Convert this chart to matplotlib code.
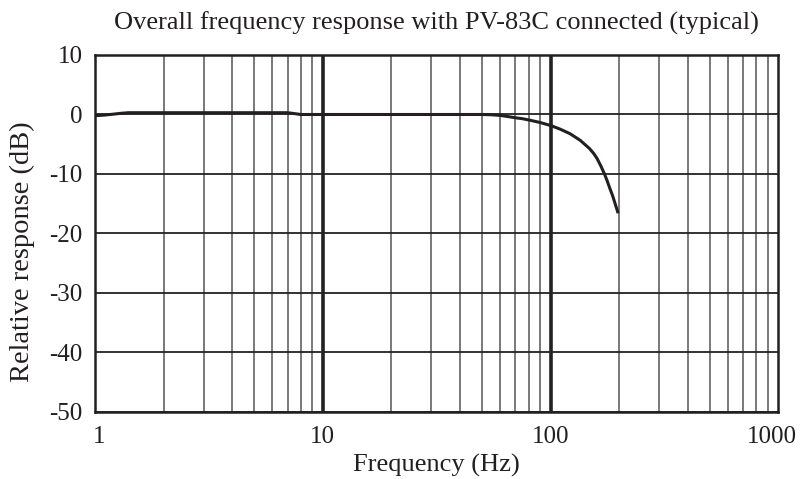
import numpy as np
import matplotlib.pyplot as plt
from matplotlib.transforms import ScaledTranslation

plt.rcParams['font.family'] = ['Liberation Serif', 'DejaVu Serif']

# typical response
freq_hz = [1.0, 1.1, 1.2, 1.3, 1.4, 2.0, 4.0, 7.0, 7.5, 8.0, 10, 20, 40, 50, 55, 60, 65, 70, 75, 81, 90,
           100, 110, 122, 135, 148, 155, 160, 166, 172, 177, 182, 187, 191, 195, 198]
resp_db = [-0.2, -0.1, 0.05, 0.2, 0.3, 0.3, 0.3, 0.3, 0.15, 0.0, 0.0, 0.0, 0.0, 0.0, -0.05, -0.15, -0.35, -0.55, -0.7, -0.95, -1.35,
           -1.85, -2.45, -3.25, -4.35, -5.7, -6.6, -7.4, -8.6, -9.9, -11.1, -12.4, -13.6, -14.7, -15.8, -16.6]

y_ticks = [10, 0, -10, -20, -30, -40, -50]
x_ticks = [1, 10, 100, 1000]
x_labels = ['1', '10', '100', '1000']

fig = plt.figure(figsize=(8.02, 4.79), dpi=100)
ax = fig.add_axes([0.1185, 0.1399, 0.852, 0.7453])

# grid: thin lines on every 1-9 step, heavier on the decades
for dec in [1, 10, 100]:
    for m in range(2, 10):
        ax.axvline(dec * m, color='#555555', lw=1.1, zorder=1)
for d in [10, 100]:
    ax.axvline(d, color='#222222', lw=2.6, zorder=1)
for y in y_ticks:
    ax.axhline(y, color='#222222', lw=1.3, zorder=1)

ax.plot(freq_hz, resp_db, color='#231f20', lw=2.2, zorder=3, solid_capstyle='butt')

ax.set_xscale('log')
ax.set_xlim(1, 1000)
ax.set_ylim(-50, 10)
ax.set_xticks(x_ticks)
ax.set_xticklabels(x_labels)
ax.set_yticks(y_ticks)
ax.set_yticklabels([str(v) for v in y_ticks])
ax.xaxis.set_minor_locator(plt.NullLocator())
ax.tick_params(length=0, labelsize=18, colors='#231f20')
ax.tick_params(axis='x', pad=10)
ax.tick_params(axis='y', pad=9)
for s in ax.spines.values():
    s.set_linewidth(1.8)
    s.set_color('#231f20')

# nudge the end labels inward a little
xl = ax.get_xticklabels()
xl[0].set_transform(xl[0].get_transform() + ScaledTranslation(4 / 100, 0, fig.dpi_scale_trans))
xl[-1].set_transform(xl[-1].get_transform() + ScaledTranslation(-6 / 100, 0, fig.dpi_scale_trans))

ax.set_xlabel('Frequency (Hz)', fontsize=19, color='#231f20', labelpad=4)
ax.set_ylabel('Relative response (dB)', fontsize=20.5, color='#231f20')
ax.yaxis.set_label_coords(-0.088, 0.45)
ax.set_title('Overall frequency response with PV-83C connected (typical)', fontsize=19, color='#231f20', pad=18)

fig.savefig('out.png', dpi=100)
